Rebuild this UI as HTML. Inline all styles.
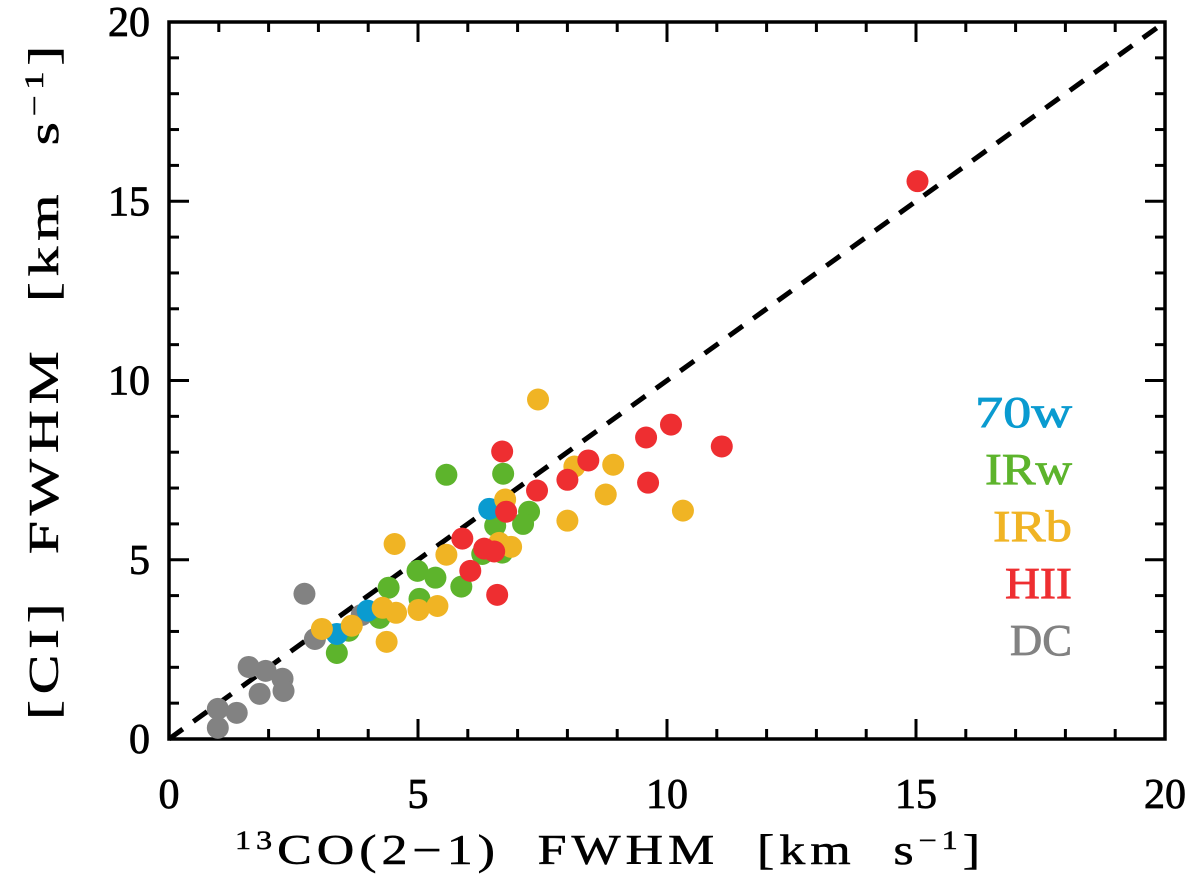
<!DOCTYPE html>
<html><head><meta charset="utf-8"><style>
body{margin:0;background:#fff;}
svg{display:block;font-family:"Liberation Serif",serif;}
.tt{letter-spacing:4px;word-spacing:16px;}
</style></head><body>
<svg id="chart" width="1200" height="886" viewBox="0 0 1200 886">
<g id="axes"></g>
<g id="points"></g>
<g id="legend"></g>
</svg>
<script>
const xTicks=[0,5,10,15,20];
const yTicks=[0,5,10,15,20];
const categories=["70w","IRw","IRb","HII","DC"];
const colors=["#0a9bd0","#5db42c","#f0b424","#ee2e31","#828282"];
const x70w=[6.43,3.99,3.37];
const y70w=[6.42,3.58,2.93];
const xIRw=[5.57,6.71,7.23,7.11,6.55,6.29,6.69,4.99,5.35,4.41,5.87,5.03,4.23,3.61,3.37];
const yIRw=[7.37,7.40,6.34,6.00,5.95,5.16,5.20,4.69,4.50,4.22,4.25,3.91,3.38,3.02,2.40];
const xIRb=[7.41,8.14,8.92,8.77,10.32,8.00,6.75,6.63,6.87,4.53,5.57,5.39,5.01,4.56,4.29,4.37,3.67,3.07];
const yIRb=[9.47,7.60,7.65,6.82,6.37,6.09,6.68,5.47,5.36,5.44,5.14,3.71,3.60,3.52,3.66,2.71,3.16,3.07];
const xHII=[10.08,9.58,11.10,6.69,8.42,8.00,9.62,7.39,6.77,5.89,6.33,6.53,6.05,6.59,15.03];
const yHII=[8.77,8.41,8.16,8.02,7.77,7.23,7.15,6.93,6.34,5.59,5.31,5.23,4.69,4.02,15.56];
const xDC=[2.72,2.93,3.87,1.60,1.94,2.28,2.30,1.82,1.36,0.98,0.98];
const yDC=[4.05,2.79,3.46,2.01,1.90,1.68,1.34,1.26,0.73,0.84,0.31];
const seriesX=[x70w,xIRw,xIRb,xHII,xDC];
const seriesY=[y70w,yIRw,yIRb,yHII,yDC];
const drawOrder=[4,1,0,2,3];
const legendWidths=[97,87,79,67,62];

const L=169,R=1165,T=22,B=739;
const sx=v=>L+(v-0)/(20-0)*(R-L);
const sy=v=>B-(v-0)/(20-0)*(B-T);
const NS="http://www.w3.org/2000/svg";
function mk(tag,parent,attrs){const e=document.createElementNS(NS,tag);for(const k in attrs)e.setAttribute(k,attrs[k]);parent.appendChild(e);return e;}
const axes=document.getElementById('axes');
const pts=document.getElementById('points');
const leg=document.getElementById('legend');

drawOrder.forEach(s=>{
  seriesX[s].forEach((xv,i)=>{
    const c=mk('circle',pts,{cx:sx(xv),cy:sy(seriesY[s][i]),r:11,fill:colors[s]});
    
    
  });
});
const ln=mk('line',axes,{x1:sx(0),y1:sy(0),x2:sx(20),y2:sy(20),stroke:'#000','stroke-width':5,'stroke-dasharray':'17 13'});


const fr=mk('rect',axes,{x:L,y:T,width:R-L,height:B-T,fill:'none',stroke:'#000','stroke-width':3.5});


for(let v=0;v<=20;v+=1){
  const major=v%5===0, len=major?20:10;
  const x=sx(v),y=sy(v);
  mk('line',axes,{x1:x,y1:B,x2:x,y2:B-len,stroke:'#000','stroke-width':3});
  mk('line',axes,{x1:x,y1:T,x2:x,y2:T+len,stroke:'#000','stroke-width':3});
  mk('line',axes,{x1:L,y1:y,x2:L+len,y2:y,stroke:'#000','stroke-width':3});
  mk('line',axes,{x1:R,y1:y,x2:R-len,y2:y,stroke:'#000','stroke-width':3});
}
xTicks.forEach(v=>{
  const t=mk('text',axes,{x:sx(v),y:808,'font-size':42,'text-anchor':'middle',stroke:'#000','stroke-width':0.8});
  t.textContent=v;
  
  
});
yTicks.forEach(v=>{
  const t=mk('text',axes,{x:150,y:sy(v)+14,'font-size':42,'text-anchor':'end',stroke:'#000','stroke-width':0.8});
  t.textContent=v;
  
  
});
const xt=mk('text',axes,{x:235,y:864,'font-size':42,'class':'tt',stroke:'#000','stroke-width':0.5,textLength:750,lengthAdjust:'spacingAndGlyphs'});
xt.innerHTML='<tspan font-size="26" dy="-15">13</tspan><tspan dy="15">CO(2−1) FWHM [km s</tspan><tspan font-size="26" dy="-15">−1</tspan><tspan dy="15">]</tspan>';


const yt=mk('text',axes,{x:-720,y:0,'font-size':42,'class':'tt',stroke:'#000','stroke-width':0.5,transform:'translate(58,0) rotate(-90)',textLength:680,lengthAdjust:'spacingAndGlyphs'});
yt.innerHTML='[CI] FWHM [km s<tspan font-size="26" dy="-15">−1</tspan><tspan dy="15">]</tspan>';


categories.forEach((c,i)=>{
  const t=mk('text',leg,{x:1072-legendWidths[i],y:427+i*57,'font-size':44,fill:colors[i],stroke:colors[i],'stroke-width':0.8,textLength:legendWidths[i],lengthAdjust:'spacingAndGlyphs'});
  t.textContent=c;
  
  
});
</script>
</body></html>
